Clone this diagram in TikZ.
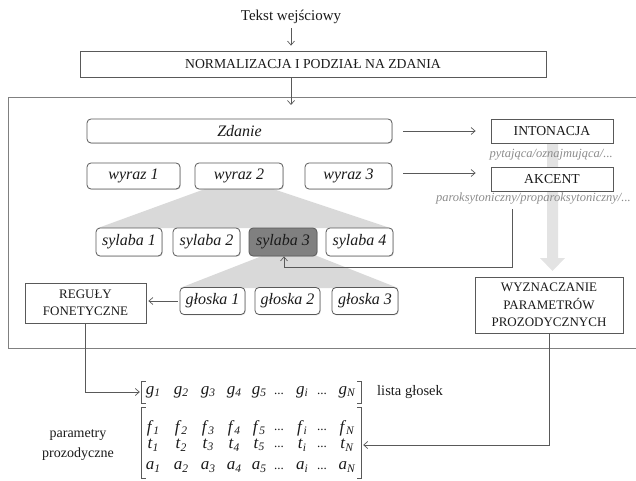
\documentclass[tikz,border=0pt]{standalone}
\usepackage{fontspec}
\setmainfont{Liberation Serif}
\usetikzlibrary{arrows.meta,shadows}
\definecolor{linegray}{HTML}{595959}
\definecolor{framegray}{HTML}{808080}
\definecolor{fangray}{HTML}{D9D9D9}
\definecolor{biggray}{HTML}{E3E3E3}
\definecolor{notegray}{HTML}{8C8C8C}
\definecolor{sylfill}{HTML}{808080}
\definecolor{txt}{HTML}{1A1A1A}
\newcommand\ment[2]{\textit{#1}\raisebox{-2.5pt}{\fontsize{11.5}{11.5}\selectfont\textit{#2}}}
\begin{document}
\begin{tikzpicture}[x=1pt,y=-1pt,
  line/.style={draw=linegray, line width=0.7pt},
  arr/.style={line, -{Straight Barb[length=4pt,width=7pt]}},
  box/.style={draw=linegray, line width=0.8pt, fill=white, text=txt, font=\fontsize{13.7}{15}\selectfont, inner sep=0pt, align=center},
  rbox/.style={box, rounded corners=4pt, font=\fontsize{16}{18}\selectfont\itshape, drop shadow={shadow xshift=0.8pt,shadow yshift=-0.8pt,fill=black!25}},
  note/.style={font=\fontsize{12.5}{14}\selectfont\itshape, text=notegray, inner sep=0pt},
  plain/.style={text=txt, font=\fontsize{14.5}{16}\selectfont, inner sep=0pt},
  ent/.style={text=txt, font=\fontsize{17}{18}\selectfont, inner sep=0pt},
  brk/.style={draw=linegray, line width=0.8pt},
]
\useasboundingbox (0,0) rectangle (636,481);
% background shapes
\fill[biggray] (547,141) -- (558,141) -- (558,258) -- (565,258) -- (552.5,271) -- (540,258) -- (547,258) -- cycle;
\fill[fangray] (205,189) -- (273,189) -- (390,228) -- (98,228) -- cycle;
\fill[fangray] (262,256) -- (317,256) -- (398,288) -- (180,288) -- cycle;
% frame
\draw[draw=framegray, line width=0.9pt] (640,97) -- (8,97) -- (8,348) -- (640,348);

\node[plain, font=\fontsize{15}{17}\selectfont] (tekst) at (291,17) {Tekst wejściowy};
\node[box, minimum width=466pt, minimum height=26pt] (norm) at (313,64) {NORMALIZACJA I PODZIAŁ NA ZDANIA};
\draw[arr, shorten <=4pt, shorten >=5pt] (tekst.south) -- (tekst.south |- norm.north);
\coordinate (fin) at (291,105);
\draw[arr] (norm.south -| fin) -- (fin);

\node[rbox, minimum width=305pt, minimum height=24pt] (zdanie) at (239.5,131) {Zdanie};
\node[box, minimum width=122pt, minimum height=24pt] (inton) at (552,131) {INTONACJA};
\node[note, anchor=east] (pyt) at (613,155) {pytająca/oznajmująca/...};
\draw[arr, shorten <=11pt, shorten >=15pt] (zdanie.east) -- (inton.west);

\node[rbox, minimum width=93pt, minimum height=26pt] (w1) at (133.5,176) {wyraz 1};
\node[rbox, minimum width=88pt, minimum height=26pt] (w2) at (239,176) {wyraz 2};
\node[rbox, minimum width=87pt, minimum height=26pt] (w3) at (348.5,176) {wyraz 3};
\node[box, minimum width=122pt, minimum height=24pt] (akcent) at (552,179) {AKCENT};
\node[note, anchor=east] (parok) at (631,199) {paroksytoniczny/proparoksytoniczny/...};
\draw[arr, shorten <=11pt, shorten >=15pt] ([yshift=3pt]w3.east) -- ([yshift=3pt]w3.east -| akcent.west);

\node[rbox, minimum width=66pt, minimum height=28pt] (s1) at (129,242) {sylaba 1};
\node[rbox, minimum width=67pt, minimum height=28pt] (s2) at (206.5,242) {sylaba 2};
\node[rbox, minimum width=68pt, minimum height=28pt, fill=sylfill] (s3) at (283,242) {sylaba 3};
\node[rbox, minimum width=67pt, minimum height=28pt] (s4) at (359.5,242) {sylaba 4};
\coordinate (acs) at (512,209);
\coordinate (bend) at (284,267);
\draw[arr] (acs) |- (bend) -- (bend |- s3.south);

\node[rbox, minimum width=65pt, minimum height=27pt] (g1b) at (212.5,301) {głoska 1};
\node[rbox, minimum width=65pt, minimum height=27pt] (g2b) at (287.5,301) {głoska 2};
\node[rbox, minimum width=66pt, minimum height=27pt] (g3b) at (365,301) {głoska 3};
\node[box, minimum width=121pt, minimum height=40pt, font=\fontsize{13}{17}\selectfont] (reguly) at (85.5,303) {REGUŁY\\FONETYCZNE};
\draw[arr, shorten <=2pt, shorten >=2pt] (g1b.west) -- (g1b.west -| reguly.east);

\node[box, minimum width=148pt, minimum height=56pt, font=\fontsize{13}{17.5}\selectfont] (wyzn) at (549,305) {WYZNACZANIE\\PARAMETRÓW\\PROZODYCZNYCH};

% matrices
\node[minimum width=219pt, minimum height=21pt, inner sep=0pt] (gmat) at (251.5,392.5) {};
\node[minimum width=219pt, minimum height=70pt, inner sep=0pt] (fmat) at (251.5,443) {};
\foreach \m in {gmat,fmat}{
  \draw[brk] ([xshift=4pt]\m.north west) -- (\m.north west) -- (\m.south west) -- ([xshift=4pt]\m.south west);
  \draw[brk] ([xshift=-4pt]\m.north east) -- (\m.north east) -- (\m.south east) -- ([xshift=-4pt]\m.south east);
}
\foreach \r/\yy in {g/392,f/428,t/445,a/467}{
  \foreach \c/\xx in {1/153,2/181,3/208,4/234,5/259,i/302,N/347}{
    \node[ent] (\r\c) at (\xx,\yy) {\ment{\r}{\c}};
  }
  \node[ent, font=\fontsize{13}{14}\selectfont] (\r d1) at (279,\yy+2) {...};
  \node[ent, font=\fontsize{13}{14}\selectfont] (\r d2) at (322,\yy+2) {...};
}
\node[plain, anchor=west] (lista) at (377,392) {lista głosek};
\node[plain, align=center, font=\fontsize{14}{20}\selectfont] (param) at (78,445) {parametry\\prozodyczne};

\path (gmat.west |- g1.center) coordinate (gin);
\draw[arr] (reguly.south) |- ([xshift=-2pt]gin);
\path (fmat.east |- t1.center) coordinate (tin);
\draw[arr] (wyzn.south) |- ([xshift=2pt]tin);
\end{tikzpicture}
\end{document}
